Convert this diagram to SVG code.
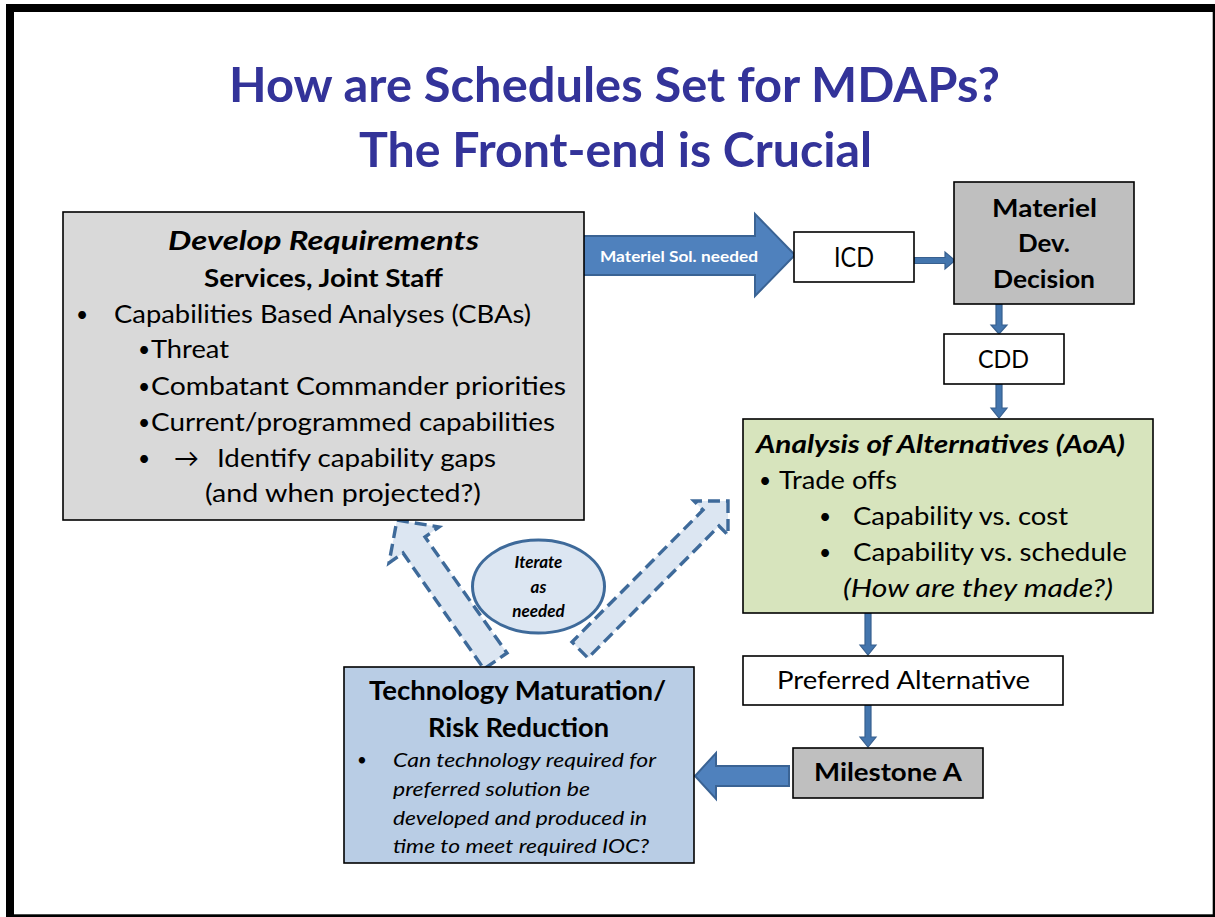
<svg xmlns="http://www.w3.org/2000/svg" width="1215" height="917" viewBox="0 0 1215 917">
<style>
text{font-family:Lato,"Liberation Sans",sans-serif;fill:#000}
.t{font-size:48px;font-weight:700;fill:#333399}
.b{font-weight:700}
.i{font-style:italic}
.s25{font-size:25px}
.s26{font-size:26px}
.s20{font-size:20px}
.s17{font-size:17px}
.s16{font-size:16px}
.bul{font-size:21px}
.box{stroke:#000;stroke-width:1.6}
.blk{fill:#4f81bd;stroke:#3a6394;stroke-width:2}
.sm{fill:#4375ad;stroke:#38608f;stroke-width:1.2}
.dash{fill:#dce6f2;stroke:#3e6a9a;stroke-width:3.4;stroke-dasharray:12 6;stroke-linejoin:miter}
</style>
<rect x="10" y="8" width="1206.7" height="910.3" fill="#fff" stroke="#000" stroke-width="8"/>
<g id="title">
<text class="t" x="229" y="102" textLength="771" lengthAdjust="spacingAndGlyphs">How are Schedules Set for MDAPs?</text>
<text class="t" x="359" y="167" textLength="513" lengthAdjust="spacingAndGlyphs">The Front-end is Crucial</text>
</g>
<g id="connectors">
<polygon class="blk" points="583,236 755,236 755,214 795,255 755,296 755,275 583,275"/>
<text class="b s16" x="600" y="262" style="fill:#fff" textLength="158" lengthAdjust="spacingAndGlyphs">Materiel Sol. needed</text>
<polygon class="sm" points="914,257.5 945,257.5 945,252 955,260.5 945,269 945,263.5 914,263.5"/>
<polygon class="sm" points="996,304 1002,304 1002,325 1007,325 999,334 991,325 996,325"/>
<polygon class="sm" points="996,384 1002,384 1002,408 1007,408 999,418 991,408 996,408"/>
<polygon class="sm" points="865,613 871,613 871,645 876,645 868,655 860,645 865,645"/>
<polygon class="sm" points="865,705 871,705 871,737 876,737 868,747 860,737 865,737"/>
<polygon class="blk" points="789,766 716,766 716,753 695,776 716,799 716,786 789,786"/>
<polygon class="dash" points="397,520 439,527 425,537 507,653 484,669 403,553 389,563"/>
<polygon class="dash" points="728,501 728,535 719,526 588,658 572,642 703,510 694,501"/>
</g>
<g id="develop-requirements">
<rect class="box" x="63" y="212" width="521" height="308" fill="#d9d9d9"/>
<text class="b i s26" x="168" y="250" textLength="311" lengthAdjust="spacingAndGlyphs">Develop Requirements</text>
<text class="b s25" x="204" y="287" textLength="239" lengthAdjust="spacingAndGlyphs">Services, Joint Staff</text>
<text class="bul" x="76" y="322">•</text>
<text class="s25" x="114" y="323" textLength="417" lengthAdjust="spacingAndGlyphs">Capabilities Based Analyses (CBAs)</text>
<text class="bul" x="138" y="357">•</text>
<text class="s25" x="151" y="358" textLength="78" lengthAdjust="spacingAndGlyphs">Threat</text>
<text class="bul" x="138" y="394">•</text>
<text class="s25" x="151" y="395" textLength="415" lengthAdjust="spacingAndGlyphs">Combatant Commander  priorities</text>
<text class="bul" x="138" y="430">•</text>
<text class="s25" x="151" y="431" textLength="404" lengthAdjust="spacingAndGlyphs">Current/programmed capabilities</text>
<text class="bul" x="138" y="466">•</text>
<text class="s25" x="174" y="467" textLength="25" lengthAdjust="spacingAndGlyphs">→</text>
<text class="s25" x="217" y="467" textLength="279" lengthAdjust="spacingAndGlyphs">Identify capability gaps</text>
<text class="s25" x="205" y="502" textLength="276" lengthAdjust="spacingAndGlyphs">(and when projected?)</text>
</g>
<g id="icd">
<rect class="box" x="794" y="232" width="120" height="50" fill="#fff"/>
<text class="s26" x="834" y="267" textLength="40" lengthAdjust="spacingAndGlyphs">ICD</text>
</g>
<g id="materiel-dev-decision">
<rect class="box" x="954" y="182" width="180" height="122" fill="#bfbfbf"/>
<text class="b s25" x="992" y="217" textLength="105" lengthAdjust="spacingAndGlyphs">Materiel</text>
<text class="b s25" x="1018" y="252" textLength="52" lengthAdjust="spacingAndGlyphs">Dev.</text>
<text class="b s25" x="993" y="288" textLength="102" lengthAdjust="spacingAndGlyphs">Decision</text>
</g>
<g id="cdd">
<rect class="box" x="944" y="334" width="120" height="50" fill="#fff"/>
<text class="s25" x="978" y="368" textLength="51" lengthAdjust="spacingAndGlyphs">CDD</text>
</g>
<g id="aoa">
<rect class="box" x="743" y="419" width="410" height="194" fill="#d7e4bd"/>
<text class="b i s25" x="756" y="453" textLength="369" lengthAdjust="spacingAndGlyphs">Analysis of Alternatives (AoA)</text>
<text class="bul" x="759" y="488">•</text>
<text class="s25" x="779" y="489" textLength="118" lengthAdjust="spacingAndGlyphs">Trade offs</text>
<text class="bul" x="819" y="524">•</text>
<text class="s25" x="853" y="525" textLength="215" lengthAdjust="spacingAndGlyphs">Capability vs. cost</text>
<text class="bul" x="819" y="560">•</text>
<text class="s25" x="853" y="561" textLength="274" lengthAdjust="spacingAndGlyphs">Capability vs. schedule</text>
<text class="i s25" x="843" y="597" textLength="270" lengthAdjust="spacingAndGlyphs">(How are they made?)</text>
</g>
<g id="preferred-alternative">
<rect class="box" x="743" y="656" width="320" height="49" fill="#fff"/>
<text class="s25" x="777" y="689" textLength="253" lengthAdjust="spacingAndGlyphs">Preferred Alternative</text>
</g>
<g id="milestone-a">
<rect class="box" x="793" y="748" width="190" height="50" fill="#bfbfbf"/>
<text class="b s25" x="814" y="781" textLength="148" lengthAdjust="spacingAndGlyphs">Milestone A</text>
</g>
<g id="tech-maturation">
<rect class="box" x="344" y="667" width="350" height="196" fill="#b9cde5"/>
<text class="b s26" x="369" y="700" textLength="297" lengthAdjust="spacingAndGlyphs">Technology Maturation/</text>
<text class="b s26" x="428" y="737" textLength="181" lengthAdjust="spacingAndGlyphs">Risk Reduction</text>
<text class="s17" x="357" y="766">•</text>
<text class="i s20" x="393" y="767" textLength="263" lengthAdjust="spacingAndGlyphs">Can technology required for</text>
<text class="i s20" x="393" y="796" textLength="197" lengthAdjust="spacingAndGlyphs">preferred solution be</text>
<text class="i s20" x="393" y="825" textLength="254" lengthAdjust="spacingAndGlyphs">developed and produced in</text>
<text class="i s20" x="393" y="853" textLength="256" lengthAdjust="spacingAndGlyphs">time to meet required IOC?</text>
</g>
<g id="iterate">
<ellipse cx="538.5" cy="586.5" rx="66" ry="46.5" fill="#dce6f2" stroke="#3e6a9a" stroke-width="3"/>
<text class="b i s17" x="538.5" y="568" text-anchor="middle">Iterate</text>
<text class="b i s17" x="538.5" y="593" text-anchor="middle">as</text>
<text class="b i s17" x="538.5" y="617" text-anchor="middle">needed</text>
</g>
</svg>
